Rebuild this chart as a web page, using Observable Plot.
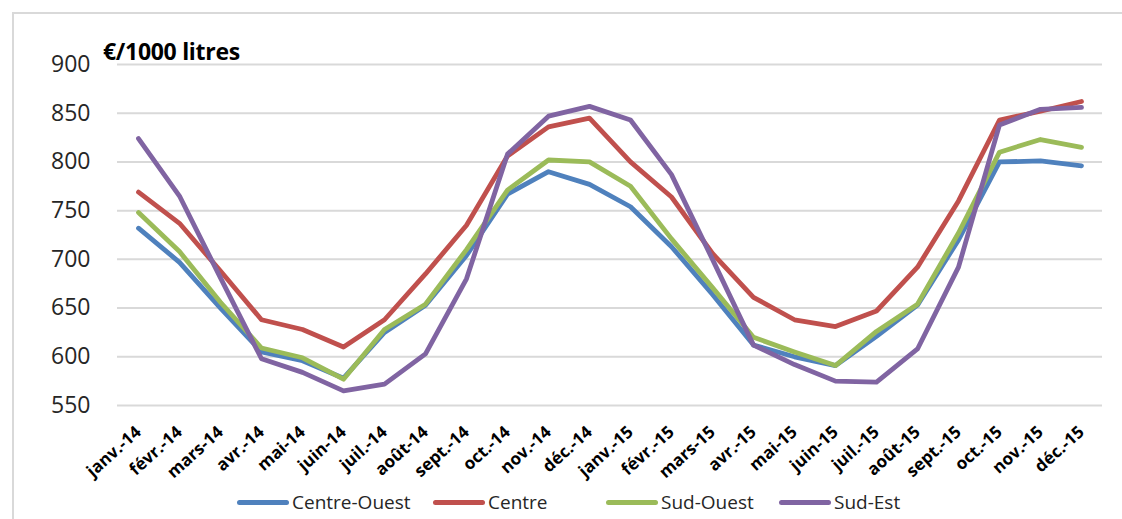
<!DOCTYPE html>
<html>
<head>
<meta charset="utf-8">
<script src="https://cdn.jsdelivr.net/npm/d3@7"></script>
<script src="https://cdn.jsdelivr.net/npm/@observablehq/plot@0.6"></script>
<style>
  body { margin: 0; background: #fff; font-family: "Open Sans", sans-serif; }
  #wrap { position: relative; width: 1122px; height: 519px; overflow: hidden; }
  #frame { position: absolute; left: 12px; top: 12px; width: 1140px; height: 540px; border: 2px solid #d9d9d9; box-sizing: border-box; }
  #chart { position: absolute; left: 0; top: 0; }
  #title { position: absolute; left: 103px; top: 35px; font-weight: bold; font-size: 23px; color: #000; letter-spacing: -0.3px; }
  #legend { position: absolute; left: 0; top: 489px; width: 1122px; height: 30px; font-size: 19px; color: #262626; }
  .item { position: absolute; top: 0; display: flex; align-items: center; }
  .sw { width: 52px; height: 5px; border-radius: 3px; margin-right: 3px; }
</style>
</head>
<body>
<div id="wrap">
  <div id="frame"></div>
  <div id="chart"></div>
  <div id="title">€/1000 litres</div>
  <div id="legend"></div>
</div>
<script>
const months = ["janv.-14","févr.-14","mars-14","avr.-14","mai-14","juin-14","juil.-14","août-14","sept.-14","oct.-14","nov.-14","déc.-14",
                "janv.-15","févr.-15","mars-15","avr.-15","mai-15","juin-15","juil.-15","août-15","sept.-15","oct.-15","nov.-15","déc.-15"];
const centreOuest = [732, 697, 650, 605, 596, 578, 625, 653, 704, 767, 790, 777, 754, 713, 664, 612, 600, 591, 621, 653, 720, 800, 801, 796];
const centre      = [769, 737, 688, 638, 628, 610, 638, 685, 735, 806, 836, 845, 800, 764, 706, 661, 638, 631, 647, 692, 760, 843, 852, 862];
const sudOuest    = [748, 708, 656, 609, 599, 577, 628, 654, 710, 771, 802, 800, 775, 721, 671, 620, 605, 591, 626, 654, 727, 810, 823, 815];
const sudEst      = [824, 765, 681, 598, 584, 565, 572, 603, 680, 808, 847, 857, 843, 787, 700, 612, 592, 575, 574, 608, 692, 838, 854, 856];
const seriesNames = ["Centre-Ouest", "Centre", "Sud-Ouest", "Sud-Est"];
const seriesColors = ["#4f81bd", "#c0504d", "#9bbb59", "#8064a2"];
const yTicks = [550, 600, 650, 700, 750, 800, 850, 900];

const seriesValues = [centreOuest, centre, sudOuest, sudEst];
const data = seriesNames.flatMap((s, i) => months.map((m, j) => ({series: s, month: m, value: seriesValues[i][j]})));

const chart = Plot.plot({
  width: 1122,
  height: 490,
  marginLeft: 117,
  marginRight: 20,
  marginTop: 64,
  marginBottom: 85,
  style: { fontFamily: "'Open Sans', sans-serif", background: "transparent" },
  x: { domain: months, type: "point", padding: 0.5, label: null },
  y: { domain: [550, 900], label: null },
  color: { domain: seriesNames, range: seriesColors },
  marks: [
    Plot.gridY(yTicks, { stroke: "#d9d9d9", strokeOpacity: 1, strokeWidth: 2 }),
    Plot.axisY(yTicks, { tickSize: 0, tickPadding: 27, fontSize: 23, fill: "#262626", label: null }),
    Plot.axisX({ tickSize: 0, tickPadding: 24, tickRotate: -42, fontSize: 17, fontWeight: "bold", fill: "#000", label: null }),
    Plot.line(data, { x: "month", y: "value", z: "series", stroke: "series", strokeWidth: 4.8, strokeLinejoin: "round", strokeLinecap: "round" })
  ]
});
document.getElementById("chart").appendChild(chart);

const legendLefts = [237, 433, 606, 779];
const legend = document.getElementById("legend");
seriesNames.forEach((s, i) => {
  const it = document.createElement("div");
  it.className = "item";
  it.style.left = legendLefts[i] + "px";
  const sw = document.createElement("span");
  sw.className = "sw";
  sw.style.background = seriesColors[i];
  const tx = document.createElement("span");
  tx.textContent = s;
  it.appendChild(sw);
  it.appendChild(tx);
  legend.appendChild(it);
});
</script>
</body>
</html>
